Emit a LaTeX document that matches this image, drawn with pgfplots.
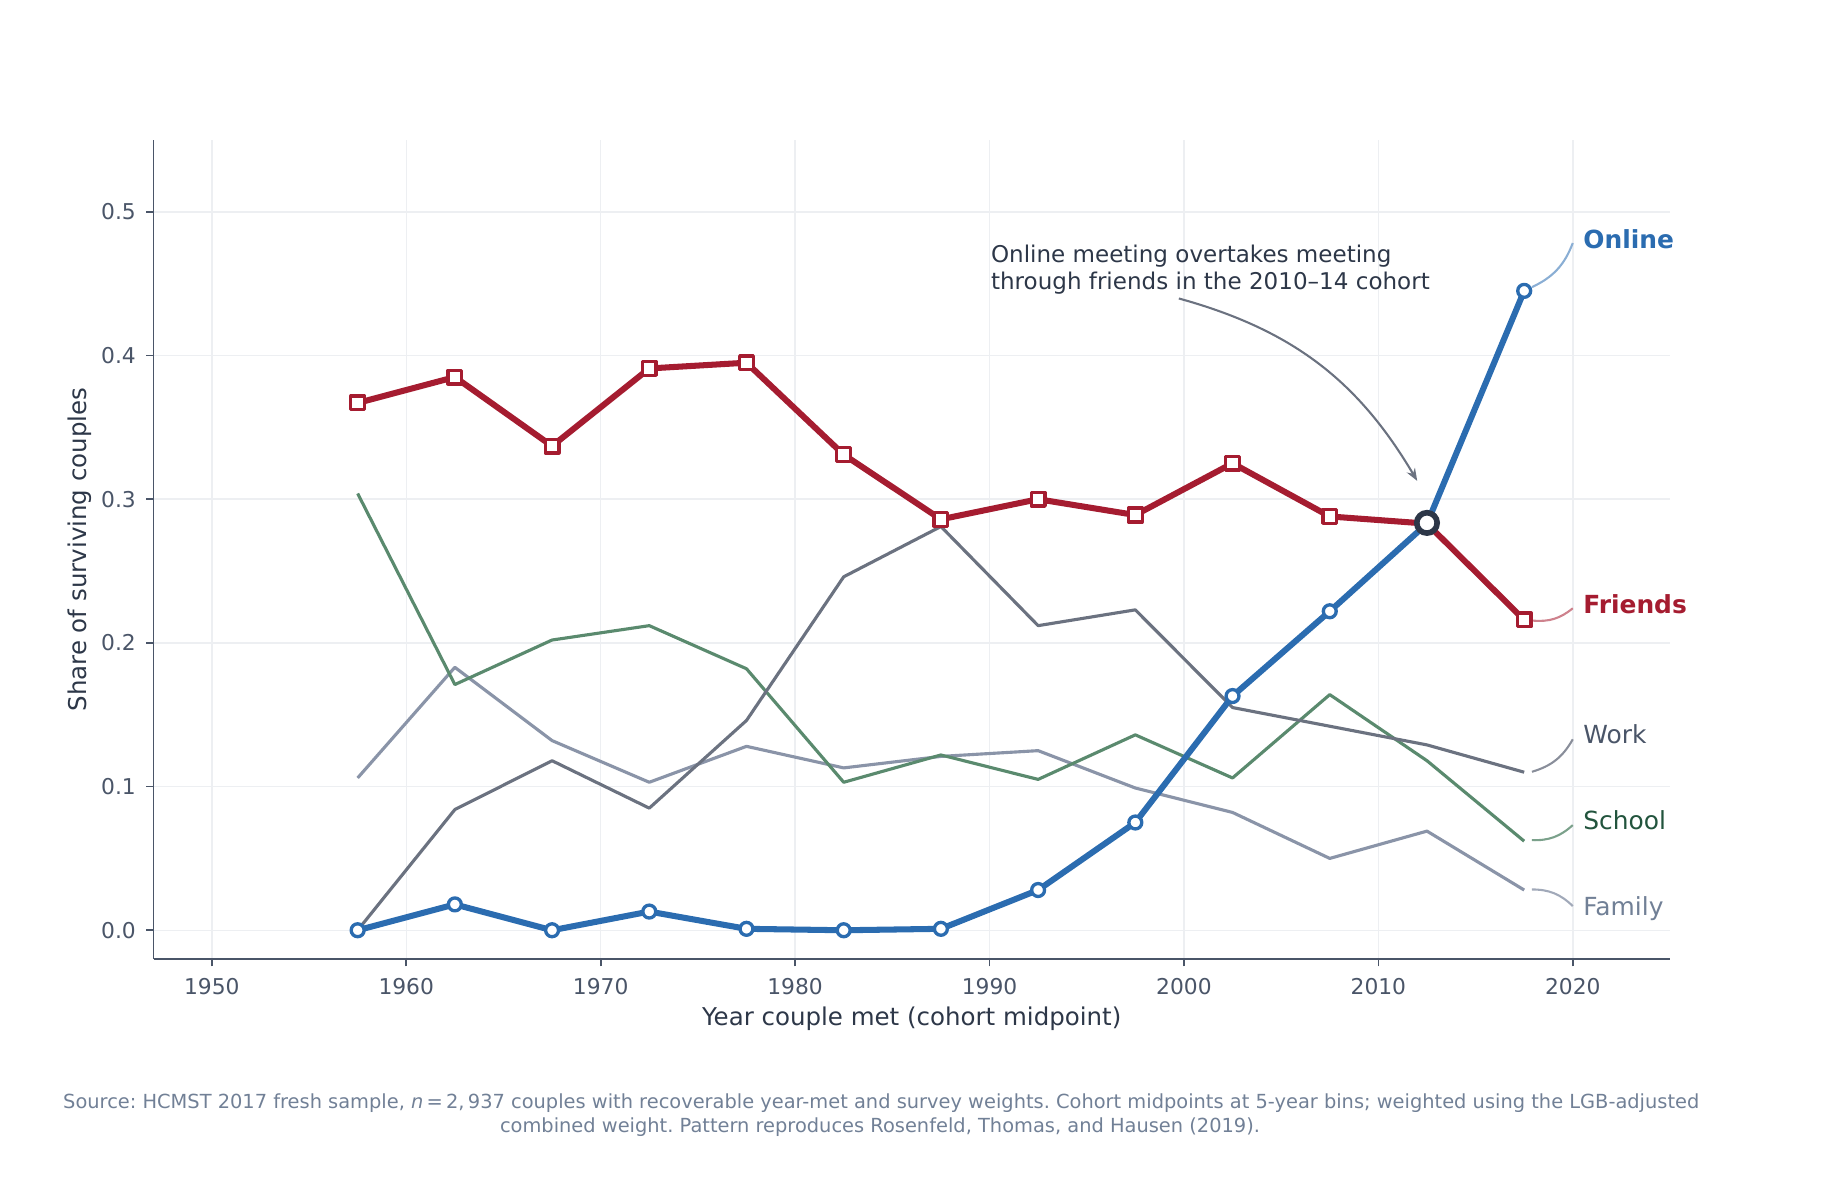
\documentclass[border=0pt]{standalone}
\usepackage{fontspec}
\setmainfont{DejaVu Sans}
\usepackage{pgfplots}
\usepackage{pgfplotstable}
\pgfplotsset{compat=1.18}
\usetikzlibrary{arrows.meta}

\definecolor{friendsc}{HTML}{A51C30}
\definecolor{onlinec}{HTML}{2B6CB0}
\definecolor{workc}{HTML}{6B7280}
\definecolor{schoolc}{HTML}{5A8A6E}
\definecolor{familyc}{HTML}{8A94A8}
\definecolor{ink}{HTML}{2D3748}
\definecolor{slate}{HTML}{4A5568}
\definecolor{muted}{HTML}{718096}
\definecolor{gridc}{HTML}{EDEFF2}
\definecolor{schoollab}{HTML}{22543D}

\pgfplotstableread{
x friends online work school family
1957.5 0.367 0.000 0.000 0.304 0.106
1962.5 0.385 0.018 0.084 0.171 0.183
1967.5 0.337 0.000 0.118 0.202 0.132
1972.5 0.391 0.013 0.085 0.212 0.103
1977.5 0.395 0.001 0.146 0.182 0.128
1982.5 0.331 0.000 0.246 0.103 0.113
1987.5 0.286 0.001 0.281 0.122 0.121
1992.5 0.300 0.028 0.212 0.105 0.125
1997.5 0.289 0.075 0.223 0.136 0.099
2002.5 0.325 0.163 0.155 0.106 0.082
2007.5 0.288 0.222 0.142 0.164 0.050
2012.5 0.283 0.283 0.129 0.118 0.069
2017.5 0.216 0.445 0.110 0.062 0.028
}\data

\begin{document}
\frenchspacing
\begin{tikzpicture}
\path[use as bounding box] (0,0) rectangle (886.08bp,573.6bp);
\begin{axis}[
  at={(73.68bp,113.28bp)}, anchor=south west,
  scale only axis, width=727.92bp, height=393.12bp,
  xmin=1947, xmax=2025, ymin=-0.02, ymax=0.55,
  axis lines*=left,
  axis line style={slate, line width=0.8bp},
  xtick={1950,1960,1970,1980,1990,2000,2010,2020},
  ytick={0,0.1,0.2,0.3,0.4,0.5},
  tick align=outside,
  major tick length=3.5bp,
  tick style={slate, line width=0.8bp},
  grid=major,
  major grid style={gridc, line width=0.7bp},
  /pgf/number format/assume math mode=true,
  tick label style={font=\fontsize{10.5}{12}\selectfont, text=slate},
  xticklabel style={inner sep=0pt, yshift=-5.4bp, /pgf/number format/1000 sep={}},
  yticklabel style={inner sep=0pt, xshift=-4.8bp, /pgf/number format/fixed, /pgf/number format/fixed zerofill, /pgf/number format/precision=1},
  clip=false,
]
\addplot[color=familyc, line width=1.5bp, line join=round] table[x=x,y=family]{\data};
\addplot[color=schoolc, line width=1.5bp, line join=round] table[x=x,y=school]{\data};
\addplot[color=workc, line width=1.5bp, line join=round] table[x=x,y=work]{\data};
\addplot[color=friendsc, line width=2.9bp, line join=round, mark=square*, mark size=3.3bp, mark options={fill=white, line width=1.6bp, solid}] table[x=x,y=friends]{\data};
\addplot[color=onlinec, line width=2.9bp, line join=round, mark=*, mark size=3.1bp, mark options={fill=white, line width=1.6bp, solid}] table[x=x,y=online]{\data};
\addplot[only marks, mark=*, mark size=4.9bp, mark options={draw=ink, fill=white, line width=2.7bp}] coordinates {(2012.5,0.2835)};

\draw[onlinec!55!white, line width=1bp] (axis cs:2017.9,0.4476) to[bend right=22] (axis cs:2020,0.4783);
\draw[friendsc!55!white, line width=1bp] (axis cs:2017.95,0.2155) to[bend right=22] (axis cs:2020,0.2241);
\draw[workc!80!white, line width=1bp] (axis cs:2017.9,0.1103) to[bend right=22] (axis cs:2020,0.1329);
\draw[schoolc!80!white, line width=1bp] (axis cs:2017.9,0.0627) to[bend right=22] (axis cs:2020,0.0732);
\draw[familyc!80!white, line width=1bp] (axis cs:2017.9,0.0284) to[bend left=22] (axis cs:2020,0.0168);
\draw[workc, line width=1bp, -{Stealth[length=6bp,width=4.5bp]}] (axis cs:1999.74,0.4397) to[bend left=22] (axis cs:2012.0,0.3127);
\end{axis}

\node[anchor=base west, inner sep=0pt, font=\fontsize{12}{14}\selectfont\bfseries, text=onlinec] at (759.8bp,454.4bp) {Online};
\node[anchor=base west, inner sep=0pt, font=\fontsize{12}{14}\selectfont\bfseries, text=friendsc] at (759.8bp,278.9bp) {Friends};
\node[anchor=base west, inner sep=0pt, font=\fontsize{12}{14}\selectfont, text=slate] at (759.8bp,216.8bp) {Work};
\node[anchor=base west, inner sep=0pt, font=\fontsize{12}{14}\selectfont, text=schoollab] at (759.8bp,175.5bp) {School};
\node[anchor=base west, inner sep=0pt, font=\fontsize{12}{14}\selectfont, text=muted] at (759.8bp,134.3bp) {Family};

\node[anchor=base west, inner sep=0pt, font=\fontsize{11.1}{13}\selectfont, text=ink] at (475.5bp,447.5bp) {Online meeting overtakes meeting};
\node[anchor=base west, inner sep=0pt, font=\fontsize{11.1}{13}\selectfont, text=ink] at (475.5bp,434.7bp) {through friends in the 2010–14 cohort};

\node[rotate=90, anchor=center, inner sep=0pt, font=\fontsize{11.8}{14}\selectfont, text=ink] at (38.4bp,309.8bp) {Share of surviving couples};
\node[anchor=center, inner sep=0pt, font=\fontsize{11.8}{14}\selectfont, text=ink] at (437.6bp,84.6bp) {Year couple met (cohort midpoint)};

\node[anchor=base, inner sep=0pt, font=\fontsize{9.35}{12}\selectfont, text=muted] at (423bp,41.3bp) {Source: HCMST 2017 fresh sample, {\itshape n}\,=\,2,\,937 couples with recoverable year-met and survey weights. Cohort midpoints at 5-year bins; weighted using the LGB-adjusted};
\node[anchor=base, inner sep=0pt, font=\fontsize{9.35}{12}\selectfont, text=muted] at (422.4bp,30.2bp) {combined weight. Pattern reproduces Rosenfeld, Thomas, and Hausen (2019).};
\end{tikzpicture}
\end{document}
